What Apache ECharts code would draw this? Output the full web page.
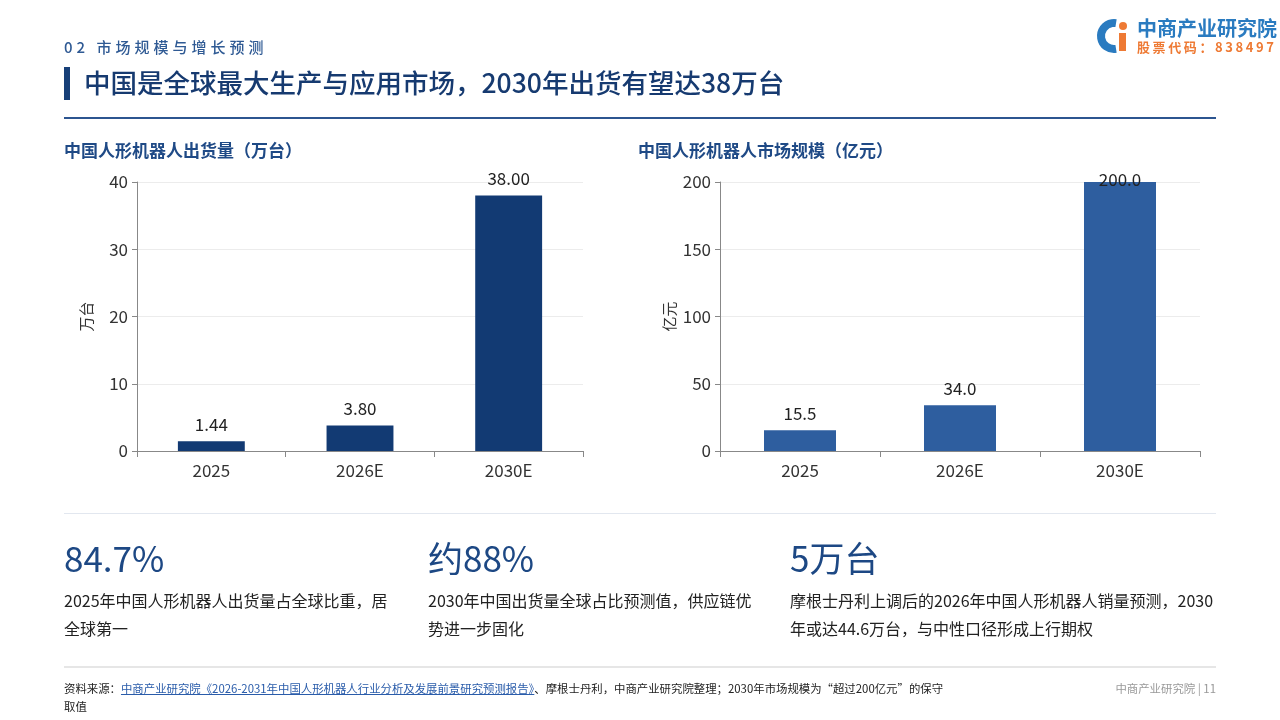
<!DOCTYPE html>
<html>
<head>
<meta charset="utf-8">
<script src="https://cdn.jsdelivr.net/npm/echarts@6/dist/echarts.min.js"></script>
<style>
  body { margin: 0; width: 1280px; height: 720px; overflow: hidden; background: #fff;
         font-family: "Noto Sans CJK SC", "Noto Sans", sans-serif; }
  #page { position: relative; width: 1280px; height: 720px; }
  #chart { position: absolute; left: 0; top: 0; width: 1280px; height: 720px; }
  .abs { position: absolute; white-space: nowrap; }
  .sec { left: 64px; top: 36px; font-size: 15px; letter-spacing: 4px; color: #2f5a94; font-weight: 500; }
  .bar { left: 64px; top: 67px; width: 6px; height: 33px; background: #173f78; }
  .title { left: 84px; top: 63px; font-size: 26.5px; line-height: 38px; color: #163a70; font-weight: 500; }
  .rule { left: 64px; width: 1152px; }
  .ctitle { top: 138px; font-size: 17px; line-height: 24px; font-weight: 700; color: #1f4a86; }
  .big { top: 534px; font-size: 35px; line-height: 46px; color: #1d4884; }
  .desc { top: 586px; font-size: 16px; line-height: 28px; color: #222; }
  .foot { left: 64px; top: 679px; font-size: 11.4px; line-height: 18px; color: #222; }
  .foot a { color: #2a5caa; text-decoration: underline; }
  .page { right: 64px; top: 679px; font-size: 11.4px; line-height: 18px; color: #999; }
  .logo1 { left: 1137px; top: 15px; font-size: 20px; line-height: 26px; font-weight: 700; color: #2a7bc0; }
  .logo2 { left: 1137px; top: 38px; font-size: 13px; line-height: 18px; font-weight: 700; letter-spacing: 2.6px; color: #ee7a34; }
</style>
</head>
<body>
<div id="page">
  <div id="chart"></div>

  <div class="abs sec">02 市场规模与增长预测</div>
  <div class="abs bar"></div>
  <div class="abs title">中国是全球最大生产与应用市场，2030年出货有望达38万台</div>
  <div class="abs rule" style="top:117px;height:2px;background:#2c5590;"></div>

  <div class="abs ctitle" style="left:64px;">中国人形机器人出货量（万台）</div>
  <div class="abs ctitle" style="left:638px;">中国人形机器人市场规模（亿元）</div>

  <div class="abs rule" style="top:513px;height:1px;background:#e2e7ef;"></div>

  <div class="abs big" style="left:64px;">84.7%</div>
  <div class="abs big" style="left:428px;">约88%</div>
  <div class="abs big" style="left:790px;">5万台</div>
  <div class="abs desc" style="left:64px;">2025年中国人形机器人出货量占全球比重，居<br>全球第一</div>
  <div class="abs desc" style="left:428px;">2030年中国出货量全球占比预测值，供应链优<br>势进一步固化</div>
  <div class="abs desc" style="left:790px;">摩根士丹利上调后的2026年中国人形机器人销量预测，2030<br>年或达44.6万台，与中性口径形成上行期权</div>

  <div class="abs rule" style="top:666px;height:2px;background:#e6e6e6;"></div>
  <div class="abs foot">资料来源：<a>中商产业研究院《2026-2031年中国人形机器人行业分析及发展前景研究预测报告》</a>、摩根士丹利，中商产业研究院整理；2030年市场规模为“超过200亿元”的保守<br>取值</div>
  <div class="abs page">中商产业研究院 | 11</div>

  <div class="abs logo1">中商产业研究院</div>
  <div class="abs logo2">股票代码：838497</div>
</div>
<script>
// 数据
var years = ['2025', '2026E', '2030E'];
var shipments = [1.44, 3.80, 38.00];     // 万台
var marketSize = [15.5, 34.0, 200.0];    // 亿元
var shipTicks = { min: 0, max: 40, interval: 10 };
var sizeTicks = { min: 0, max: 200, interval: 50 };

var FONT = '"Noto Sans CJK SC", "Noto Sans", sans-serif';
var chart = echarts.init(document.getElementById('chart'));

// 标签贴近顶部时往下压一点（原图200.0压在柱顶上）
function toItems(values, max) {
  return values.map(function (v) {
    var item = { value: v };
    if (v >= max) item.label = { distance: -6 };
    return item;
  });
}

function yAxisOf(name, ticks) {
  return {
    type: 'value', name: name, nameLocation: 'middle', nameGap: 43, nameRotate: 90,
    nameTextStyle: { fontSize: 15, color: '#333', fontFamily: FONT },
    min: ticks.min, max: ticks.max, interval: ticks.interval,
    axisLine: { show: true, lineStyle: { color: '#888' } },
    axisTick: { show: true, length: 5, lineStyle: { color: '#888' } },
    axisLabel: { fontSize: 17, color: '#333', margin: 9, fontFamily: FONT },
    splitLine: { lineStyle: { color: '#ececec' } }
  };
}

function xAxisOf() {
  return {
    type: 'category', data: years,
    axisLine: { lineStyle: { color: '#888' } },
    axisTick: { show: true, length: 6, lineStyle: { color: '#888' } },
    axisLabel: { fontSize: 17, color: '#333', margin: 11, fontFamily: FONT }
  };
}

var option = {
  animation: false,
  grid: [
    { left: 137, right: 697, top: 182, bottom: 269 },
    { left: 720, right: 80, top: 182, bottom: 269 }
  ],
  xAxis: [
    Object.assign(xAxisOf(), { gridIndex: 0 }),
    Object.assign(xAxisOf(), { gridIndex: 1 })
  ],
  yAxis: [
    Object.assign(yAxisOf('万台', shipTicks), { gridIndex: 0 }),
    Object.assign(yAxisOf('亿元', sizeTicks), { gridIndex: 1 })
  ],
  series: [
    {
      type: 'bar', xAxisIndex: 0, yAxisIndex: 0, barWidth: '45%',
      itemStyle: { color: '#123a73' },
      label: { show: true, position: 'top', distance: 8, fontSize: 17, color: '#222', fontFamily: FONT,
               formatter: function (p) { return p.value.toFixed(2); } },
      data: toItems(shipments, shipTicks.max)
    },
    {
      type: 'bar', xAxisIndex: 1, yAxisIndex: 1, barWidth: '45%',
      itemStyle: { color: '#2e5e9f' },
      label: { show: true, position: 'top', distance: 8, fontSize: 17, color: '#222', fontFamily: FONT,
               formatter: function (p) { return p.value.toFixed(1); } },
      data: toItems(marketSize, sizeTicks.max)
    }
  ],
  graphic: [
    // logo 图标
    { type: 'arc', shape: { cx: 1114, cy: 36, r: 13, startAngle: Math.PI * 0.45, endAngle: Math.PI * 1.55, clockwise: true },
      style: { stroke: '#2a7bc0', lineWidth: 8, fill: null } },
    { type: 'rect', shape: { x: 1119, y: 33, width: 7, height: 18 }, style: { fill: '#ee7a34' } },
    { type: 'circle', shape: { cx: 1123, cy: 26, r: 4 }, style: { fill: '#ee7a34' } }
  ]
};

chart.setOption(option);
</script>
</body>
</html>
